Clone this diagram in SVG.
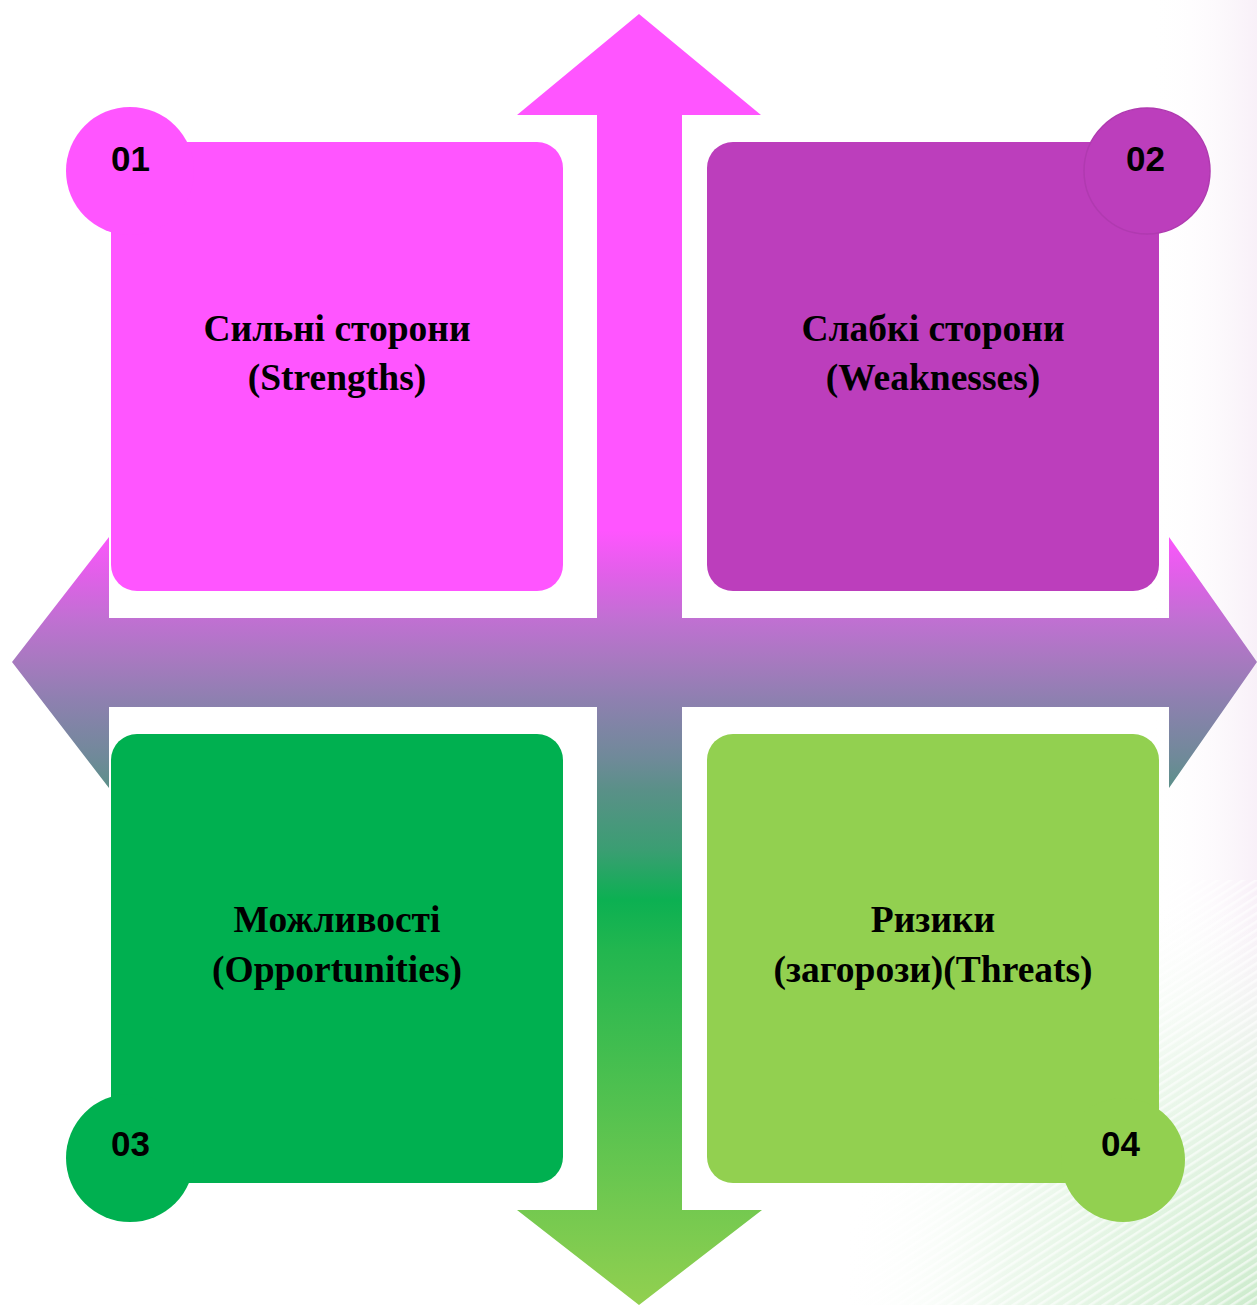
<svg xmlns="http://www.w3.org/2000/svg" width="1257" height="1305" viewBox="0 0 1257 1305">
<defs>
<linearGradient id="arrowGrad" gradientUnits="userSpaceOnUse" x1="0" y1="14" x2="0" y2="1305">
<stop offset="0" stop-color="#FF55FF"/>
<stop offset="0.40" stop-color="#FF55FF"/>
<stop offset="0.435" stop-color="#E060E8"/>
<stop offset="0.469" stop-color="#C070D2"/>
<stop offset="0.50" stop-color="#A879C0"/>
<stop offset="0.531" stop-color="#8E80B0"/>
<stop offset="0.578" stop-color="#6E8A98"/>
<stop offset="0.601" stop-color="#5A9088"/>
<stop offset="0.648" stop-color="#3A9E72"/>
<stop offset="0.686" stop-color="#0CB052"/>
<stop offset="0.725" stop-color="#22B64F"/>
<stop offset="1" stop-color="#92D050"/>
</linearGradient>
<radialGradient id="bgGreen" gradientUnits="userSpaceOnUse" cx="1257" cy="1305" r="420">
<stop offset="0" stop-color="#C8EBC8" stop-opacity="0.9"/>
<stop offset="0.6" stop-color="#E2F4E2" stop-opacity="0.6"/>
<stop offset="1" stop-color="#FFFFFF" stop-opacity="0"/>
</radialGradient>
<linearGradient id="bgPink" x1="0" y1="0" x2="1" y2="0">
<stop offset="0" stop-color="#FFFFFF" stop-opacity="0"/>
<stop offset="1" stop-color="#F8F0F8" stop-opacity="1"/>
</linearGradient>
<pattern id="stripes" patternUnits="userSpaceOnUse" width="7" height="7" patternTransform="rotate(-33)">
<rect width="7" height="2.5" fill="#FFFFFF" fill-opacity="0.6"/>
</pattern>
</defs>
<style>
.lbl{font-family:"Liberation Serif","Times New Roman",serif;font-weight:bold;font-size:37.5px;fill:#000;text-anchor:middle}
.num{font-family:"Liberation Sans",Arial,sans-serif;font-weight:bold;font-size:35px;fill:#000}
</style>
<rect width="1257" height="1305" fill="#FFFFFF"/>
<rect x="1150" y="0" width="107" height="1305" fill="url(#bgPink)"/>
<rect x="830" y="880" width="427" height="425" fill="url(#bgGreen)"/>
<rect x="830" y="880" width="427" height="425" fill="url(#stripes)"/>

<g id="cross-arrow">
<path d="M639,14 L761,115 L682,115 L682,618 L1169,618 L1169,537 L1257,662 L1169,788 L1169,707 L682,707 L682,1210 L762,1210 L639,1305 L517,1210 L597,1210 L597,707 L109,707 L109,788 L12,662 L109,537 L109,618 L597,618 L597,115 L517,115 Z" fill="url(#arrowGrad)"/>
</g>

<g id="node-strengths">
<rect x="111" y="142" width="452" height="449" rx="26" fill="#FF55FF"/>
<circle cx="130" cy="171" r="64" fill="#FF55FF"/>
<text class="num" x="111" y="171">01</text>
<text class="lbl" x="337" y="341">Сильні сторони</text>
<text class="lbl" x="337" y="390">(Strengths)</text>
</g>

<g id="node-weaknesses">
<rect x="707" y="142" width="452" height="449" rx="26" fill="#BC3EBC"/>
<circle cx="1147" cy="171" r="63" fill="#BC3EBC" stroke="#B03AB0" stroke-width="1.5"/>
<text class="num" x="1126" y="171">02</text>
<text class="lbl" x="933" y="341">Слабкі сторони</text>
<text class="lbl" x="933" y="390">(Weaknesses)</text>
</g>

<g id="node-opportunities">
<rect x="111" y="734" width="452" height="449" rx="26" fill="#00B050"/>
<circle cx="130" cy="1158" r="64" fill="#00B050"/>
<text class="num" x="111" y="1156">03</text>
<text class="lbl" x="337" y="932">Можливості</text>
<text class="lbl" x="337" y="982">(Opportunities)</text>
</g>

<g id="node-threats">
<rect x="707" y="734" width="452" height="449" rx="26" fill="#92D050"/>
<circle cx="1123" cy="1160" r="62" fill="#92D050"/>
<text class="num" x="1101" y="1156">04</text>
<text class="lbl" x="933" y="932">Ризики</text>
<text class="lbl" x="933" y="982">(загорози)(Threats)</text>
</g>
</svg>
